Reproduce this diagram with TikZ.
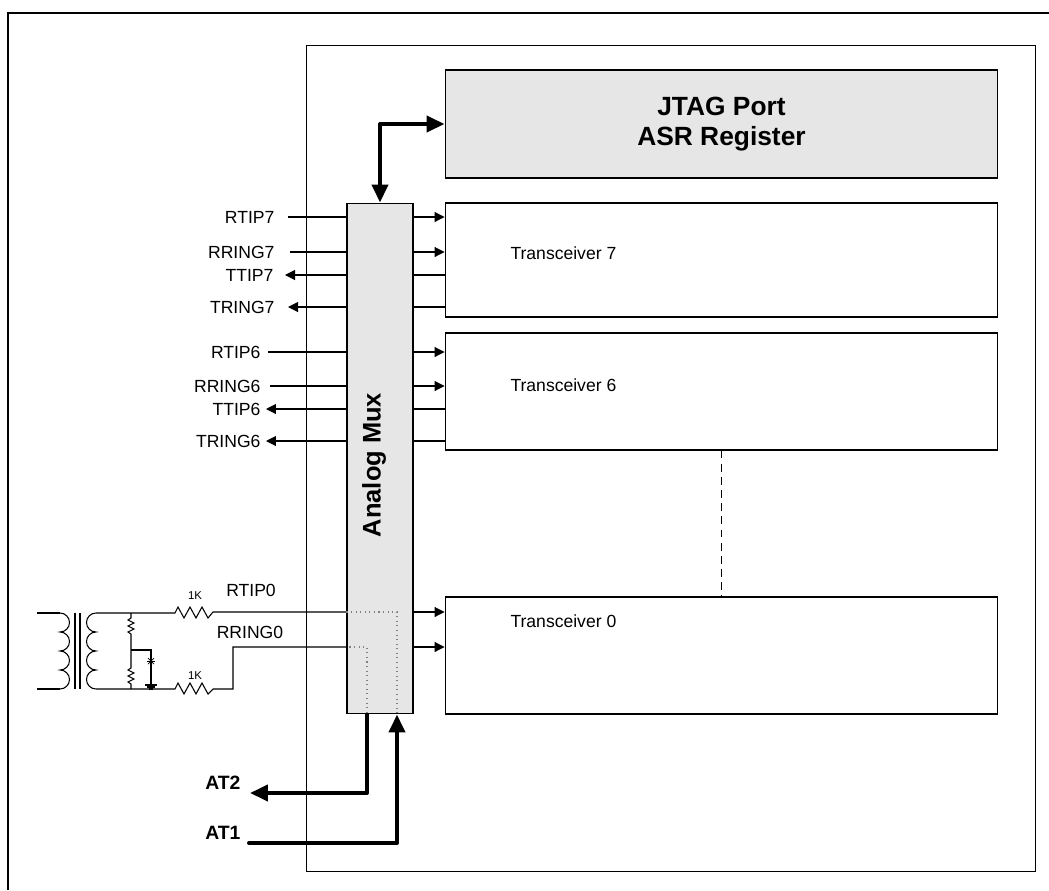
\documentclass[tikz,border=0pt]{standalone}
\usepackage{fontspec}
\setmainfont{Liberation Sans}
\usetikzlibrary{arrows.meta}
\definecolor{boxgray}{RGB}{230,230,230}

\tikzset{
	tinytip/.tip={Triangle[length=0.2cm,width=0.2cm]},
	bigtip/.tip={Triangle[length=0.36cm,width=0.32cm]},
	block/.style={draw, inner sep=0pt},
	sig/.style={inner sep=0pt, font=\fontsize{10}{12}\selectfont},
	rx left/.style={},
	tx left/.style={tinytip-},
	rx right/.style={-tinytip},
	tx right/.style={},
	bus/.style={line width=2.3pt, line join=round},
	bold/.style={font=\fontsize{14.5}{17}\selectfont\bfseries},
}

\begin{document}
\begin{tikzpicture}[x=0.02cm, y=-0.02cm, line width=0.6pt]
			\useasboundingbox (0,0) rectangle (1049,890);
			\draw[line width=1.2pt] (8,890) |- (1049,13);
			% chip and blocks
			\node[block, minimum width=14.6cm, minimum height=16.54cm] (chip) at (671,458.5) {};
			\node[block, fill=boxgray, minimum width=11.06cm, minimum height=2.16cm, align=center, font=\fontsize{15}{17.5}\selectfont\bfseries] (jtag) at (721.5,124) {JTAG Port\\ASR Register};
			\node[block, minimum width=11.06cm, minimum height=2.28cm] (trx7) at (721.5,260) {};
			\node[block, minimum width=11.06cm, minimum height=2.34cm] (trx6) at (721.5,391.5) {};
			\node[block, minimum width=11.06cm, minimum height=2.34cm] (trx0) at (721.5,655.5) {};
			\node[sig, anchor=west] (trx7 text) at (510,253) {Transceiver 7};
			\node[sig, anchor=west] (trx6 text) at (510,385) {Transceiver 6};
			\node[sig, anchor=west] (trx0 text) at (510,621) {Transceiver 0};
			\draw[dash pattern=on 4.5pt off 3pt] (trx6.south) -- (trx0.north);
			\node[block, fill=boxgray, minimum width=1.32cm, minimum height=10.22cm] (mux) at (380,458.5) {};
			\node[rotate=90, bold] (mux text) at (374,465) {Analog Mux};
			\draw[bus, bigtip-bigtip] (mux.north) |- (jtag.west);
			% channel 7 and 6 pins
			\foreach \sname/\y/\lx/\sx/\kind in {RTIP7/217/275/288/rx, RRING7/252/275/290/rx, TTIP7/275/274/285/tx, TRING7/307/275/288/tx, RTIP6/352/261/268/rx, RRING6/386/261/270/rx, TTIP6/409/261/266/tx, TRING6/441/261/266/tx}{
				\node[sig, anchor=east] (l\sname) at (\lx,\y) {\sname};
				\coordinate (e\sname) at (\sx,\y);
				\draw[\kind\space left] (e\sname) -- (e\sname -| mux.west);
				\draw[\kind\space right] (e\sname -| mux.east) -- (e\sname -| trx7.west);
			}
			% line interface of channel 0
			\draw (37,613) -- (60,613);
			\draw (37,689) -- (60,689);
			\draw (60,613) arc[start angle=90, end angle=-90, radius=0.19cm] arc[start angle=90, end angle=-90, radius=0.19cm]
				arc[start angle=90, end angle=-90, radius=0.19cm] arc[start angle=90, end angle=-90, radius=0.19cm];
			\draw (75,613) -- (75,689);
			\draw (80,613) -- (80,689);
			\draw (96,613) arc[start angle=90, end angle=270, radius=0.19cm] arc[start angle=90, end angle=270, radius=0.19cm]
				arc[start angle=90, end angle=270, radius=0.19cm] arc[start angle=90, end angle=270, radius=0.19cm];
			\coordinate (rtip0) at (213,612);
			\coordinate (rring0) at (233,647);
			\draw (96,613) -- (175,613) -- (178,607) -- (184,618) -- (190,607) -- (196,618) -- (202,607) -- (208,618) -- (rtip0) -- (rtip0 -| mux.west);
			\draw (96,689) -- (175,689) -- (178,683) -- (184,694) -- (190,683) -- (196,694) -- (202,683) -- (208,694) -- (213,689) -- (233,689) -- (rring0) -- (rring0 -| mux.west);
			\draw (131,613) -- (131,618) -- (128,620) -- (134,623) -- (128,626) -- (134,629) -- (128,632) -- (131,634) -- (131,668) -- (128,670) -- (134,673) -- (128,676) -- (134,679) -- (128,682) -- (131,684) -- (131,689);
			\draw (131,650) -- (151,650) -- (151,685);
			\draw[line width=0.4pt] (147,661) -- (155,661);
			\draw[line width=0.4pt] (148,658) -- (154,664) (148,664) -- (154,658);
			\draw (145,685) -- (157,685) (147,687) -- (155,687) (149,689) -- (153,689);
			\node[inner sep=0pt, font=\fontsize{6.5}{8}\selectfont] (r1 text) at (195,596) {1K};
			\node[inner sep=0pt, font=\fontsize{6.5}{8}\selectfont] (r2 text) at (195,676) {1K};
			\node[sig] (lRTIP0) at (251,590) {RTIP0};
			\node[sig] (lRRING0) at (250,632) {RRING0};
			\draw[-tinytip] (rtip0 -| mux.east) -- (rtip0 -| trx0.west);
			\draw[-tinytip] (rring0 -| mux.east) -- (rring0 -| trx0.west);
			% test access
			\coordinate (at1 end) at ([xshift=0.34cm]mux.south);
			\coordinate (at2 start) at ([xshift=-0.26cm]mux.south);
			\draw[gray, dotted] (rtip0 -| mux.west) -| (at1 end);
			\draw[gray, dotted] ([xshift=0.06cm]rring0 -| mux.west) -| (at2 start);
			\coordinate (at2 tip) at (250,793);
			\coordinate (at1 start) at (249,843);
			\draw[bus, -bigtip] (at2 start) |- (at2 tip);
			\draw[bus, -bigtip, line cap=round] (at1 start) -| (at1 end);
			\node[inner sep=0pt, anchor=east, font=\fontsize{11}{13}\selectfont\bfseries] (at2 text) at (241,783) {AT2};
			\node[inner sep=0pt, anchor=east, font=\fontsize{11}{13}\selectfont\bfseries] (at1 text) at (241,833) {AT1};
		\end{tikzpicture}
\end{document}
